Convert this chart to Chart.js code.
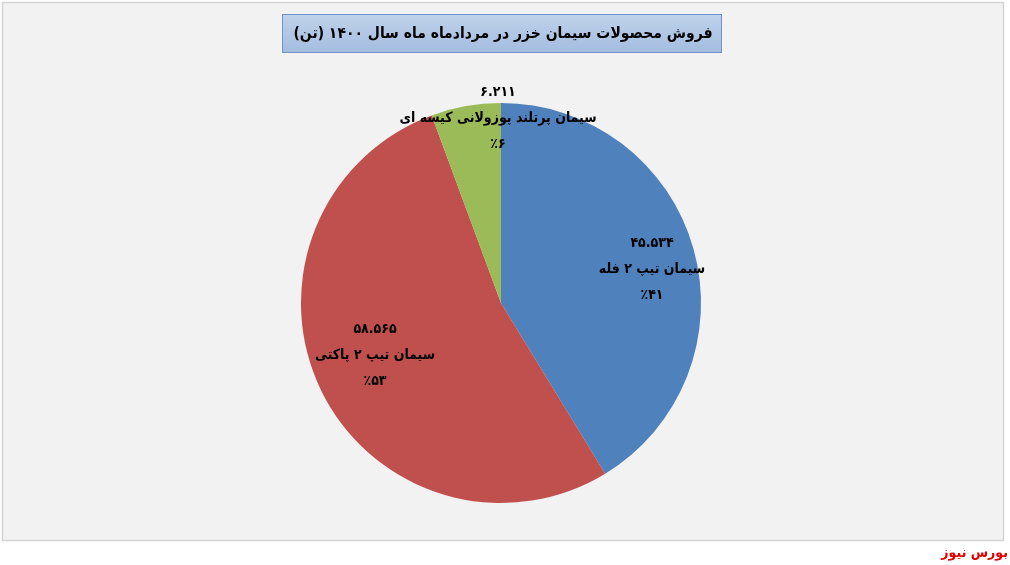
<!DOCTYPE html>
<html>
<head>
<meta charset="utf-8">
<script src="https://cdn.jsdelivr.net/npm/chart.js@4.4.1/dist/chart.umd.min.js"></script>
<style>
  html, body { margin: 0; padding: 0; background: #ffffff; }
  #wrap { width: 1010px; height: 565px; position: relative; }
</style>
</head>
<body>
<div id="wrap"><canvas id="c" width="1010" height="565"></canvas></div>
<script>
// ---- data ----
const titleText = 'فروش محصولات سیمان خزر در مردادماه ماه سال ۱۴۰۰ (تن)';
const categories = ['سیمان تیپ ۲ فله', 'سیمان تیپ ۲ پاکتی', 'سیمان پرتلند پوزولانی کیسه ای'];
const values = [45534, 58565, 6211];
const footerText = 'بورس نیوز';

// ---- styles ----
const sliceColors = ['#4f81bd', '#c0504d', '#9bbb59'];
// label anchor relative to pie centre, as fraction of radius (x, y)
const labelAnchors = [[0.755, -0.17], [-0.63, 0.26], [-0.015, -0.925]];
const fontFamily = '"DejaVu Sans Condensed", "DejaVu Sans", sans-serif';
const labelFont = 'bold 14px ' + fontFamily;

function toFa(s) {
  return String(s).replace(/[0-9]/g, d => '۰۱۲۳۴۵۶۷۸۹'[+d]);
}
function fmtValue(v) {
  return toFa(String(v).replace(/\B(?=(\d{3})+(?!\d))/g, '.'));
}
const total = values.reduce((a, b) => a + b, 0);

function fitText(ctx, text, size, maxW, weight) {
  let s = size;
  ctx.font = weight + ' ' + s + 'px ' + fontFamily;
  while (ctx.measureText(text).width > maxW && s > 8) {
    s -= 0.5;
    ctx.font = weight + ' ' + s + 'px ' + fontFamily;
  }
}

const backgroundPlugin = {
  id: 'bg',
  beforeDraw(chart) {
    const ctx = chart.ctx;
    ctx.save();
    ctx.fillStyle = '#ffffff';
    ctx.fillRect(0, 0, 1010, 565);
    ctx.fillStyle = '#f2f2f2';
    ctx.fillRect(3, 3, 1000, 537);
    ctx.strokeStyle = '#d4d4d4';
    ctx.lineWidth = 1.5;
    ctx.strokeRect(2.5, 2.5, 1001, 538);
    // title box
    const g = ctx.createLinearGradient(0, 14, 0, 53);
    g.addColorStop(0, '#bfd2ea');
    g.addColorStop(1, '#a3bcdf');
    ctx.fillStyle = g;
    ctx.fillRect(282, 14, 440, 39);
    ctx.strokeStyle = '#6f93c8';
    ctx.lineWidth = 1;
    ctx.strokeRect(282.5, 14.5, 439, 38);
    ctx.fillStyle = '#000000';
    ctx.textAlign = 'center';
    ctx.textBaseline = 'middle';
    ctx.direction = 'rtl';
    fitText(ctx, titleText, 19, 425, 'bold');
    ctx.fillText(titleText, 503, 34);
    // footer
    ctx.fillStyle = '#e00000';
    fitText(ctx, footerText, 15, 68, 'bold');
    ctx.textAlign = 'right';
    ctx.direction = 'rtl';
    ctx.fillText(footerText, 1008, 553);
    ctx.restore();
  }
};

const labelPlugin = {
  id: 'sliceLabels',
  afterDatasetsDraw(chart) {
    const ctx = chart.ctx;
    const meta = chart.getDatasetMeta(0);
    ctx.save();
    ctx.fillStyle = '#000000';
    ctx.textAlign = 'center';
    ctx.textBaseline = 'middle';
    meta.data.forEach((arc, i) => {
      const p = arc.getProps(['x', 'y', 'outerRadius'], true);
      const cx = p.x + labelAnchors[i][0] * p.outerRadius;
      const cy = p.y + labelAnchors[i][1] * p.outerRadius;
      const pct = Math.round(values[i] / total * 100);
      ctx.font = labelFont;
      ctx.direction = 'ltr';
      ctx.fillText(fmtValue(values[i]), cx, cy - 26);
      ctx.direction = 'rtl';
      ctx.fillText(categories[i], cx, cy);
      ctx.direction = 'ltr';
      ctx.fillText('٪' + toFa(pct), cx, cy + 26);
    });
    ctx.restore();
  }
};

new Chart(document.getElementById('c'), {
  type: 'pie',
  data: {
    labels: categories,
    datasets: [{
      data: values,
      backgroundColor: sliceColors,
      borderWidth: 0
    }]
  },
  options: {
    responsive: false,
    animation: false,
    layout: { padding: { top: 103, bottom: 62, left: 0, right: 8 } },
    plugins: {
      legend: { display: false },
      tooltip: { enabled: false },
      title: { display: false }
    }
  },
  plugins: [backgroundPlugin, labelPlugin]
});
</script>
</body>
</html>
